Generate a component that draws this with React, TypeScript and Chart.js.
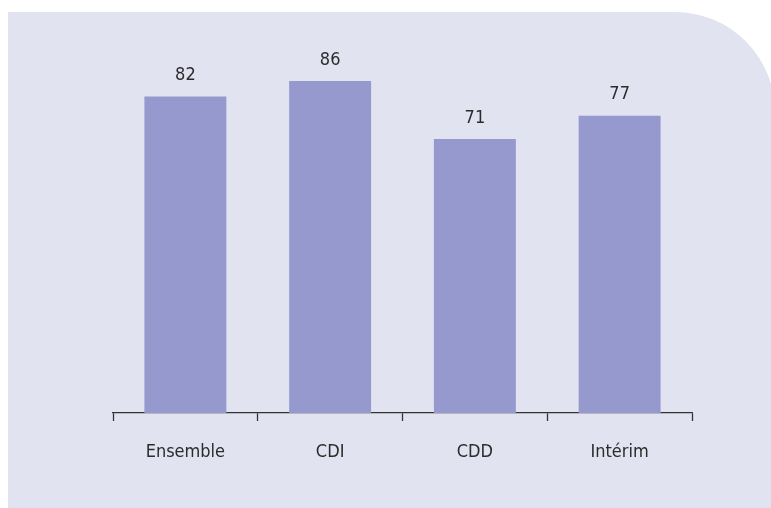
import React, { useEffect, useRef } from "react";
import { Chart, registerables } from "chart.js";

Chart.register(...registerables);

const categories = ["Ensemble", "CDI", "CDD", "Intérim"];
const values = [82, 86, 71, 77];

const FONT = "'DejaVu Sans Condensed', 'Liberation Sans Narrow', sans-serif";
const TEXT = "#2b2b2b";

const valueLabels = {
  id: "valueLabels",
  afterDatasetsDraw(chart: any) {
    const ctx = chart.ctx;
    const meta = chart.getDatasetMeta(0);
    ctx.save();
    ctx.font = `18px ${FONT}`;
    ctx.fillStyle = TEXT;
    ctx.textAlign = "center";
    ctx.textBaseline = "middle";
    meta.data.forEach((bar: any, i: number) => {
      ctx.fillText(String(values[i]), bar.x, bar.y - 21);
    });
    ctx.restore();
  },
};

export default function App() {
  const ref = useRef<HTMLCanvasElement>(null);
  useEffect(() => {
    if (!ref.current) return;
    const chart = new Chart(ref.current, {
      type: "bar",
      data: {
        labels: categories,
        datasets: [
          {
            data: values,
            backgroundColor: "#9599cd",
            borderWidth: 0,
            categoryPercentage: 1,
            barPercentage: 0.566,
          },
        ],
      },
      options: {
        responsive: false,
        animation: false,
        maintainAspectRatio: false,
        layout: { padding: { left: 113, right: 79, top: 27, bottom: 35 } },
        plugins: { legend: { display: false }, tooltip: { enabled: false } },
        scales: {
          x: {
            afterFit: (scale: any) => {
              scale.height = 60;
            },
            border: { display: true, color: "#333", width: 1.3 },
            grid: {
              display: true,
              offset: true,
              drawOnChartArea: false,
              drawTicks: true,
              tickLength: 8,
              tickWidth: 1.3,
              color: "#333",
            },
            ticks: {
              color: TEXT,
              padding: 21,
              font: { family: FONT, size: 18 },
            },
          },
          y: { display: false, min: 0, max: 100 },
        },
      },
      plugins: [valueLabels],
    });
    return () => chart.destroy();
  }, []);
  return (
    <div style={{ position: "fixed", inset: 0, overflow: "hidden", background: "#fff" }}>
      <div
        style={{
          position: "absolute",
          left: 8,
          top: 12,
          width: 767,
          height: 520,
          background: "#e2e3f1",
          borderTopRightRadius: 100,
        }}
      />
      <canvas
        ref={ref}
        width={771}
        height={508}
        style={{ position: "absolute", left: 0, top: 0, width: 771, height: 508 }}
      />
    </div>
  );
}
